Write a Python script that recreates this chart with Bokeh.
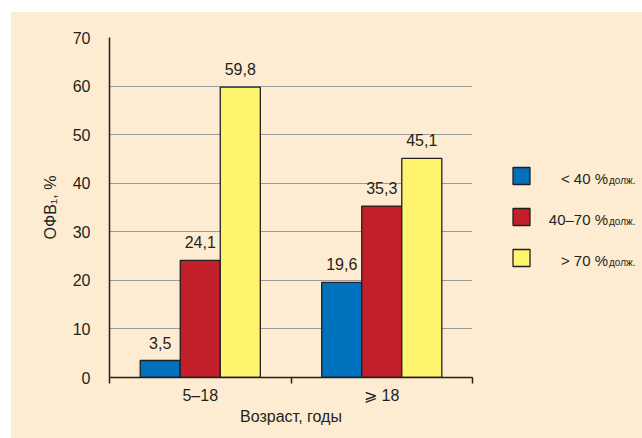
from bokeh.plotting import figure
from bokeh.models import Range1d, FixedTicker, ColumnDataSource, Spacer
from bokeh.layouts import row, column
from bokeh.embed import file_html
from bokeh.resources import INLINE
from bokeh.core.properties import value

# ---- data ----
categories = ["5–18", "⩾ 18"]
series_names = ["< 40 %", "40–70 %", "> 70 %"]
series_sub = "долж."
values_lt40 = [3.5, 19.6]
values_40_70 = [24.1, 35.3]
values_gt70 = [59.8, 45.1]
y_ticks = [0, 10, 20, 30, 40, 50, 60, 70]
y_label = "ОФВ₁, %"
x_label = "Возраст, годы"

series_values = [values_lt40, values_40_70, values_gt70]
colors = ["#0071BC", "#C1202B", "#FFF46E"]

FONT = "Liberation Sans"
BG = "#FEECD2"
DARK = "#231F20"

bar_w = 0.2206
offsets = [-bar_w, 0.0, bar_w]

BT, BB = 25, 61   # top / bottom borders shared by both panels

p = figure(width=484, height=426, output_backend="svg", toolbar_location=None,
           x_range=Range1d(0, len(categories)), y_range=Range1d(0, 70),
           min_border_left=98, min_border_right=23, min_border_top=BT,
           min_border_bottom=BB)
p.background_fill_color = BG
p.border_fill_color = BG
p.outline_line_color = None

for k, vals in enumerate(series_values):
    xs = [i + 0.5 + offsets[k] for i in range(len(categories))]
    src = ColumnDataSource(dict(x=xs, top=vals,
                                lab=[f"{v:.1f}".replace(".", ",") for v in vals]))
    p.vbar(x="x", top="top", bottom=0, width=bar_w, source=src,
           fill_color=colors[k], line_color=DARK, line_width=1.3)
    p.text(x="x", y="top", text="lab", source=src, text_align="center",
           text_baseline="alphabetic", y_offset=-18,
           text_font=value(FONT), text_font_size="16px", text_color=DARK)

# x axis: labels at category centres, ticks at boundaries
p.xaxis.ticker = FixedTicker(ticks=[i + 0.5 for i in range(len(categories))],
                             minor_ticks=list(range(len(categories) + 1)))
p.xaxis.major_label_overrides = {i + 0.5: c for i, c in enumerate(categories)}
p.xaxis.major_tick_out = 0
p.xaxis.major_tick_in = 0
p.xaxis.minor_tick_line_color = DARK
p.xaxis.minor_tick_out = 6
p.xaxis.minor_tick_in = 0
p.xaxis.minor_tick_line_width = 1.5
p.xaxis.major_label_standoff = 3
p.xaxis.axis_label = x_label
p.xaxis.axis_label_standoff = 1

p.yaxis.ticker = FixedTicker(ticks=y_ticks)
p.yaxis.major_tick_out = 6
p.yaxis.major_tick_in = 0
p.yaxis.minor_tick_line_color = None
p.yaxis.major_label_standoff = 13
p.yaxis.axis_label = y_label
p.yaxis.axis_label_standoff = 11

for ax in (p.xaxis, p.yaxis):
    ax.axis_line_color = DARK
    ax.axis_line_width = 1.5
    ax.major_tick_line_width = 1.5
    ax.major_tick_line_color = DARK if ax is p.yaxis else None
    ax.major_label_text_font = FONT
    ax.major_label_text_font_size = "16px"
    ax.major_label_text_color = DARK
    ax.axis_label_text_font = FONT
    ax.axis_label_text_font_size = "16px"
    ax.axis_label_text_font_style = "normal"
    ax.axis_label_text_color = DARK

p.xgrid.grid_line_color = None
p.ygrid.grid_line_color = "#9A9A9A"
p.ygrid.grid_line_width = 1.2

# ---- legend panel (frame aligned with the main frame) ----
LW, LH = 147, 426
FH = LH - BT - BB
leg = figure(width=LW, height=LH, output_backend="svg", toolbar_location=None,
             x_range=Range1d(0, LW), y_range=Range1d(FH, 0),
             min_border_left=0, min_border_right=0,
             min_border_top=BT, min_border_bottom=BB)
leg.axis.visible = False
leg.grid.visible = False
leg.background_fill_color = BG
leg.border_fill_color = BG
leg.outline_line_color = None

n = len(series_names)
ys = [138.5 + 41 * i for i in range(n)]
leg.rect(x=[26] * n, y=ys, width=17, height=17, fill_color=colors,
         line_color=DARK, line_width=1.3)
leg.text(x=[112.5] * n, y=[y + 2.5 for y in ys], text=series_names,
         text_align="right", text_baseline="alphabetic",
         text_font=value(FONT), text_font_size="15px", text_color=DARK)
leg.text(x=[113.5] * n, y=[y + 4.5 for y in ys], text=[series_sub] * n,
         text_align="left", text_baseline="alphabetic",
         text_font=value(FONT), text_font_size="10px", text_color=DARK)

layout = column(Spacer(height=12),
                row(Spacer(width=11),
                    row(p, leg, styles={"background-color": BG})))

open("out.html", "w").write(file_html(layout, INLINE))
